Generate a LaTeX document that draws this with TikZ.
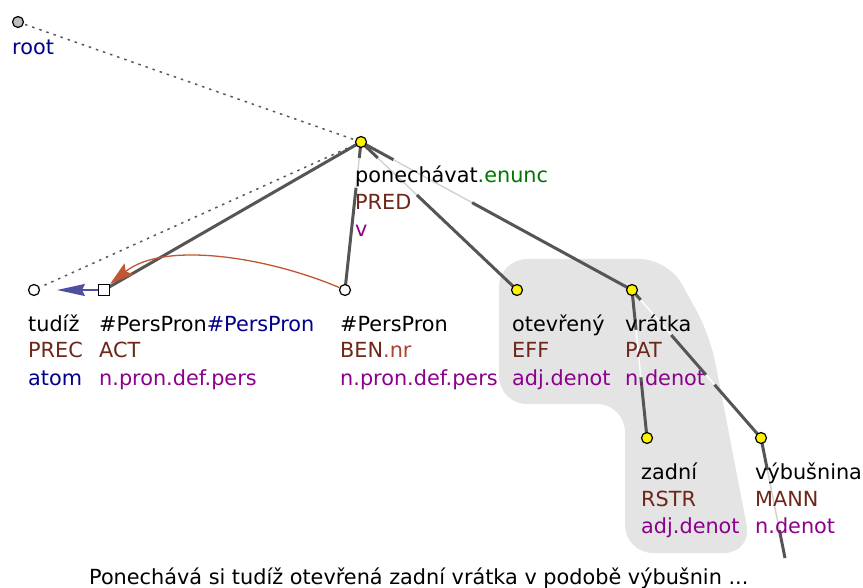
\documentclass[tikz,border=0pt]{standalone}
\usepackage{fontspec}
\setmainfont{DejaVu Sans}
\usetikzlibrary{calc,arrows.meta}
\definecolor{edgegray}{RGB}{85,85,85}
\definecolor{cbrown}{RGB}{110,38,24}
\definecolor{cnr}{RGB}{176,64,48}
\definecolor{cpurple}{RGB}{140,0,140}
\definecolor{cblue}{RGB}{0,0,140}
\definecolor{cgreen}{RGB}{0,120,0}
\definecolor{blobgray}{RGB}{228,228,228}
\definecolor{corefblue}{RGB}{76,80,159}
\definecolor{corefred}{RGB}{192,86,51}
\definecolor{rootgray}{RGB}{190,190,190}
\pgfdeclarelayer{blob}
\pgfdeclarelayer{edges}
\pgfsetlayers{blob,edges,main}
\tikzset{
  tnode/.style={circle,draw=black,line width=1.2pt,minimum size=11pt,inner sep=0pt},
  ynode/.style={tnode,fill=yellow},
  wnode/.style={tnode,fill=white},
  rnode/.style={tnode,fill=rootgray},
  snode/.style={rectangle,draw=black,line width=1.2pt,fill=white,minimum size=11pt,inner sep=0pt},
  lbl/.style={anchor=base west,inner sep=0pt,font=\fontsize{20.8}{24}\selectfont},
  edge/.style={draw=edgegray,line width=3pt},
  lightw/.style={draw=white,line width=1.4pt},
  lightg/.style={draw=black!18,line width=1.4pt},
  dotline/.style={draw=black!65,line width=1.5pt,dash pattern=on 2.5pt off 5pt},
}
\begin{document}
\begin{tikzpicture}[x=1pt,y=-1pt]
\useasboundingbox (0,0) rectangle (863,588);
% nodes
\node[rnode] (root) at (18,22) {};
\node[ynode] (pon) at (361,142) {};
\node[wnode] (tud) at (34,290) {};
\node[snode] (act) at (104,290) {};
\node[wnode] (ben) at (345,290) {};
\node[ynode] (ote) at (517,290) {};
\node[ynode] (vra) at (632,290) {};
\node[ynode] (zad) at (647,438) {};
\node[ynode] (vyb) at (761,438) {};
\coordinate (cont) at (785,558);
\coordinate (tudarrow) at (57,290);
% labels
\node[lbl,text=cblue] (lroot) at (12,55) {root};
\node[lbl] (lpon1) at (355,183) {ponechávat\textcolor{cgreen}{.enunc}};
\node[lbl,text=cbrown] (lpon2) at (355,210) {PRED};
\node[lbl,text=cpurple] (lpon3) at (355,237) {v};
\node[lbl] (ltud1) at (28,331) {tudíž};
\node[lbl,text=cbrown] (ltud2) at (28,358) {PREC};
\node[lbl,text=cblue] (ltud3) at (28,385) {atom};
\node[lbl] (lact1) at (99,331) {\#PersPron\textcolor{cblue}{\#PersPron}};
\node[lbl,text=cbrown] (lact2) at (99,358) {ACT};
\node[lbl,text=cpurple] (lact3) at (99,385) {n.pron.def.pers};
\node[lbl] (lben1) at (340,331) {\#PersPron};
\node[lbl,text=cbrown] (lben2) at (340,358) {BEN\textcolor{cnr}{.nr}};
\node[lbl,text=cpurple] (lben3) at (340,385) {n.pron.def.pers};
\node[lbl] (lote1) at (512,331) {otevřený};
\node[lbl,text=cbrown] (lote2) at (512,358) {EFF};
\node[lbl,text=cpurple] (lote3) at (512,385) {adj.denot};
\node[lbl] (lvra1) at (625,331) {vrátka};
\node[lbl,text=cbrown] (lvra2) at (625,358) {PAT};
\node[lbl,text=cpurple] (lvra3) at (625,385) {n.denot};
\node[lbl] (lzad1) at (641,479) {zadní};
\node[lbl,text=cbrown] (lzad2) at (641,506) {RSTR};
\node[lbl,text=cpurple] (lzad3) at (641,533) {adj.denot};
\node[lbl] (lvyb1) at (755,479) {výbušnina};
\node[lbl,text=cbrown] (lvyb2) at (755,506) {MANN};
\node[lbl,text=cpurple] (lvyb3) at (755,533) {n.denot};
\node[lbl] (sent) at (89,584) {Ponechává si tudíž otevřená zadní vrátka v podobě výbušnin ...};
% blob
\begin{pgfonlayer}{blob}
\fill[blobgray,rounded corners=28pt] (499,259) -- (668,259) -- (710,335) -- (752,553) -- (625,553) -- (625,404) -- (499,404) -- cycle;
\end{pgfonlayer}
% edges
\begin{pgfonlayer}{edges}
\draw[dotline] (root.center) -- (pon.center);
\draw[dotline] (pon.center) -- (tud);
\draw[edge] (pon.center) -- (act.center);
% pon -> ben
\draw[edge] (pon.center) -- ($(pon)!0.108!(ben)$);
\draw[lightg] ($(pon)!0.108!(ben)$) -- ($(pon)!0.31!(ben)$);
\draw[edge] ($(pon)!0.31!(ben)$) -- (ben.center);
% pon -> ote
\draw[edge] (pon.center) -- ($(pon)!0.108!(ote)$);
\draw[lightg] ($(pon)!0.108!(ote)$) -- ($(pon)!0.358!(ote)$);
\draw[edge] ($(pon)!0.358!(ote)$) -- (ote.center);
% pon -> vra
\draw[edge] (pon.center) -- ($(pon)!0.12!(vra)$);
\draw[lightg] ($(pon)!0.12!(vra)$) -- ($(pon)!0.41!(vra)$);
\draw[edge] ($(pon)!0.41!(vra)$) -- (vra.center);
% vra -> zad
\draw[edge] (vra.center) -- ($(vra)!0.27!(zad)$);
\draw[lightw] ($(vra)!0.27!(zad)$) -- ($(vra)!0.59!(zad)$);
\draw[edge] ($(vra)!0.59!(zad)$) -- (zad.center);
% vra -> vyb
\draw[edge] (vra.center) -- ($(vra)!0.068!(vyb)$);
\draw[lightw] ($(vra)!0.068!(vyb)$) -- ($(vra)!0.304!(vyb)$);
\draw[edge] ($(vra)!0.304!(vyb)$) -- ($(vra)!0.574!(vyb)$);
\draw[lightw] ($(vra)!0.574!(vyb)$) -- ($(vra)!0.64!(vyb)$);
\draw[edge] ($(vra)!0.64!(vyb)$) -- (vyb.center);
% vyb -> continuation
\draw[edge] (vyb.center) -- ($(vyb)!0.267!(cont)$);
\draw[lightg] ($(vyb)!0.267!(cont)$) -- ($(vyb)!0.767!(cont)$);
\draw[edge] ($(vyb)!0.767!(cont)$) -- (cont);
% coreference arrows
\draw[corefblue,line width=1.5pt,-{Stealth[length=28pt,width=12pt,inset=3pt]}] (act.west) -- (tudarrow);
\draw[corefred,line width=1.3pt,-{Stealth[length=24pt,width=14pt,inset=4pt]}] (ben) .. controls (270,258) and (165,240) .. (act.north east);
\end{pgfonlayer}
\end{tikzpicture}
\end{document}
